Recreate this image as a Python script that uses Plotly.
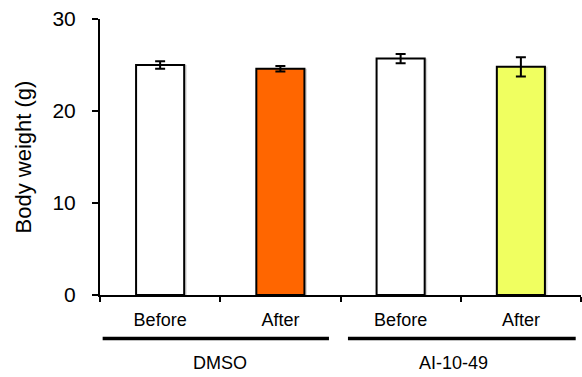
import plotly.graph_objects as go

# Body weight before/after treatment
groups = ["DMSO", "AI-10-49"]
conditions = ["Before", "After", "Before", "After"]
weights = [25.0, 24.6, 25.7, 24.8]
errors = [0.4, 0.3, 0.5, 1.05]
bar_colors = ["#FFFFFF", "#FF6600", "#FFFFFF", "#F0FF60"]
y_ticks = [0, 10, 20, 30]

FONT = "Liberation Sans, Arial, Helvetica, sans-serif"
W, H = 582, 377
M_L, M_R, M_T, M_B = 100, 1, 19, 82
PLOT_H = H - M_T - M_B
PLOT_W = W - M_L - M_R

x_pos = list(range(len(conditions)))
BAR_W = 0.4
SHADOW_DX = 2.5 * 4 / PLOT_W  # ~2.5 px to the right, in data units

fig = go.Figure()
# soft drop shadow behind each bar
fig.add_trace(go.Bar(
    x=x_pos, y=weights, width=BAR_W, offset=-BAR_W / 2 + SHADOW_DX,
    marker=dict(color="rgba(0,0,0,0.16)", line=dict(width=0)),
    showlegend=False, hoverinfo="skip",
))
fig.add_trace(go.Bar(
    x=x_pos,
    y=weights,
    width=BAR_W, offset=-BAR_W / 2,
    marker=dict(color=bar_colors, line=dict(color="black", width=2)),
    error_y=dict(type="data", array=errors, visible=True,
                 color="black", thickness=2, width=5),
    showlegend=False,
))
# invisible trace carrying the condition labels on a second x axis
fig.add_trace(go.Scatter(x=x_pos, y=weights, xaxis="x2", mode="markers",
                         marker=dict(opacity=0), showlegend=False,
                         hoverinfo="skip"))


def px_to_paper_y(px_below_axis):
    return -px_below_axis / PLOT_H


# group underlines and labels
group_spans = [(-0.478, 1.404), (1.562, 3.456)]
group_centers = [0.5, 2.44]
for (x0, x1), cx, name in zip(group_spans, group_centers, groups):
    fig.add_shape(type="line", xref="x", yref="paper",
                  x0=x0, x1=x1, y0=px_to_paper_y(43.5), y1=px_to_paper_y(43.5),
                  line=dict(color="black", width=3.5))
    fig.add_annotation(x=cx, xref="x", y=px_to_paper_y(68), yref="paper",
                       text=name, showarrow=False, yanchor="middle",
                       font=dict(family=FONT, size=18, color="black"))

fig.update_layout(
    width=W, height=H,
    margin=dict(l=M_L, r=M_R, t=M_T, b=M_B, pad=0),
    paper_bgcolor="white", plot_bgcolor="white",
    font=dict(family=FONT, color="black"),
    barmode="overlay",
    xaxis=dict(
        range=[-0.5, 3.5],
        tickmode="array", tickvals=[-0.5, 0.5, 1.5, 2.5, 3.5],
        showticklabels=False,
        ticks="outside", ticklen=5, tickwidth=2, tickcolor="black",
        showline=True, linecolor="black", linewidth=2,
        showgrid=False, zeroline=False,
    ),
    xaxis2=dict(
        overlaying="x", side="bottom", anchor="y",
        range=[-0.5, 3.5],
        tickmode="array", tickvals=x_pos, ticktext=conditions,
        tickfont=dict(family=FONT, size=18, color="black"),
        ticks="", ticklen=0, ticklabelstandoff=12,
        showline=False, showgrid=False, zeroline=False,
    ),
    yaxis=dict(
        range=[0, 30],
        tickmode="array", tickvals=y_ticks,
        tickfont=dict(family=FONT, size=21, color="black"),
        ticks="outside", ticklen=6, tickwidth=2, tickcolor="black",
        ticklabelstandoff=12,
        showline=True, linecolor="black", linewidth=2,
        showgrid=False, zeroline=False,
        title=dict(text="Body weight (g)", standoff=15,
                   font=dict(family=FONT, size=22, color="black")),
    ),
)

fig.write_html("out.html")
